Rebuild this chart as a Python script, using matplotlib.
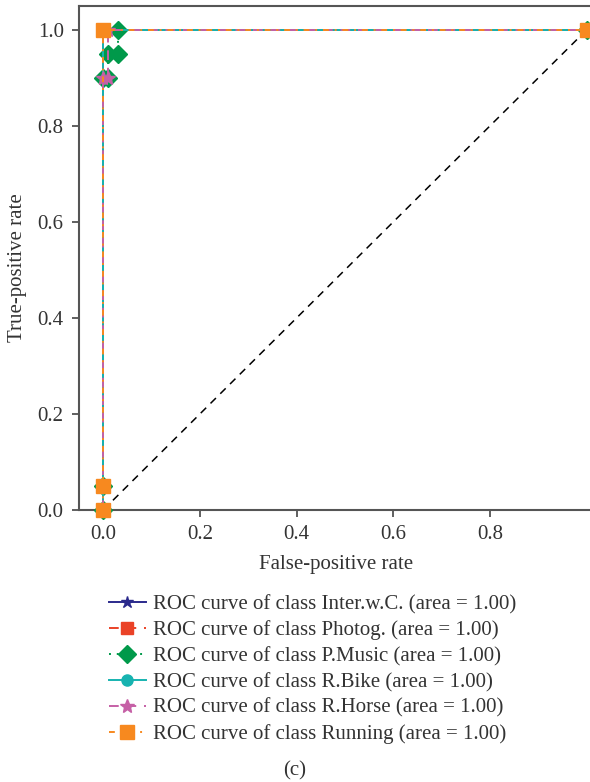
import matplotlib
matplotlib.use("Agg")
import matplotlib.pyplot as plt

plt.rcParams['font.family'] = ['Liberation Serif', 'DejaVu Serif']

classes = ["Inter.w.C.", "Photog.", "P.Music", "R.Bike", "R.Horse", "Running"]
areas = [1.00, 1.00, 1.00, 1.00, 1.00, 1.00]
fpr = [
    [0.0, 0.0, 0.0, 1.0],
    [0.0, 0.0, 0.0, 1.0],
    [0.0, 0.0, 0.0, 0.01, 0.01, 0.03, 0.03, 1.0],
    [0.0, 0.0, 0.0, 1.0],
    [0.0, 0.0, 0.0, 0.01, 0.01, 1.0],
    [0.0, 0.0, 0.0, 1.0],
]
tpr = [
    [0.0, 0.05, 1.0, 1.0],
    [0.0, 0.05, 1.0, 1.0],
    [0.0, 0.05, 0.9, 0.9, 0.95, 0.95, 1.0, 1.0],
    [0.0, 0.05, 1.0, 1.0],
    [0.0, 0.05, 0.9, 0.9, 1.0, 1.0],
    [0.0, 0.05, 1.0, 1.0],
]
colors = ["#2b2a8c", "#ea4227", "#00994a", "#17b3b0", "#c660a6", "#f7891f"]
markers = ["*", "s", "D", "o", "*", "s"]
msizes = [9, 9, 9, 8, 10, 10]
styles = ["-", (0, (5, 4)), (0, (1, 3)), "-", (0, (5, 4)), (0, (3, 3, 1, 3))]
xticks = [0.0, 0.2, 0.4, 0.6, 0.8]
yticks = [0.0, 0.2, 0.4, 0.6, 0.8, 1.0]

W, H = 590, 782
fs = 15
fig = plt.figure(figsize=(W / 100, H / 100), dpi=100)
unit = (587 - 79) / 1.05
ax_w = 1.10 * unit
ax_h = 510 - 5.5
ax = fig.add_axes([79 / W, (H - 510) / H, ax_w / W, ax_h / H])

ax.plot([0, 1], [0, 1], color="black", linestyle=(0, (5, 4)), lw=1.1, zorder=1)
for c, fx, ty, col, m, ms, ls, a in zip(classes, fpr, tpr, colors, markers, msizes, styles, areas):
    ax.plot(fx, ty, color=col, marker=m, markersize=ms, linestyle=ls, lw=1.4,
            label=f"ROC curve of class {c} (area = {a:.2f})", zorder=3, clip_on=False)

ax.set_xlim(-0.05, 1.05)
ax.set_ylim(0.0, 1.05)
ax.set_xticks(xticks)
ax.set_yticks(yticks)
ax.set_xticklabels([f"{v:.1f}" for v in xticks])
ax.set_yticklabels([f"{v:.1f}" for v in yticks])
for s in ax.spines.values():
    s.set_color("#555555")
    s.set_linewidth(1.5)
ax.spines["right"].set_visible(False)
ax.tick_params(direction="out", length=5, width=1.2, color="#444444",
               labelsize=fs, labelcolor="#333333", pad=6)
ax.set_xlabel("False-positive rate", fontsize=fs, color="#333333")
ax.set_ylabel("True-positive rate", fontsize=fs, color="#333333")
ax.xaxis.set_label_coords((336 - 79) / ax_w, -(565 - 510) / ax_h)
ax.yaxis.set_label_coords(-(79 - 18) / ax_w, (510 - 268) / ax_h)
ax.xaxis.label.set_va("center")
ax.yaxis.label.set_va("center")

handles, labels = ax.get_legend_handles_labels()
fig.legend(handles, labels, loc="upper left", bbox_to_anchor=(94 / W, 1 - 580 / H),
           frameon=False, fontsize=fs, labelcolor="#333333", handlelength=1.8,
           handletextpad=0.35, labelspacing=0.3, markerscale=1.0, borderaxespad=0.3)
fig.text(0.5, 1 - 771 / H, "(c)", ha="center", va="center", fontsize=fs, color="#333333")

fig.savefig("out.png", dpi=100)
